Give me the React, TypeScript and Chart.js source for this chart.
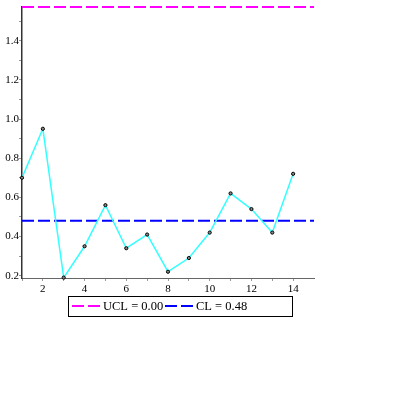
import React, { useEffect, useRef } from "react";
import { Chart, registerables } from "chart.js";

Chart.register(...registerables);

const samples: number[] = [1, 2, 3, 4, 5, 6, 7, 8, 9, 10, 11, 12, 13, 14];
const values: number[] = [0.70, 0.95, 0.19, 0.35, 0.56, 0.34, 0.41, 0.22, 0.29, 0.42, 0.62, 0.54, 0.42, 0.72];
const uclValue = 1.572;
const clValue = 0.48;
const legendLabels: string[] = ["UCL = 0.00", "CL = 0.48"];
const yTicks: number[] = [0.2, 0.3, 0.4, 0.5, 0.6, 0.7, 0.8, 0.9, 1.0, 1.1, 1.2, 1.3, 1.4, 1.5];
const xTicks: number[] = [1, 2, 3, 4, 5, 6, 7, 8, 9, 10, 11, 12, 13, 14];

const SERIF = "'Liberation Serif', 'Times New Roman', serif";

const legendPlugin = {
  id: "boxLegend",
  afterDraw(chart: any) {
    const ctx = chart.ctx;
    ctx.save();
    ctx.setLineDash([]);
    ctx.strokeStyle = "#000";
    ctx.lineWidth = 1;
    ctx.strokeRect(68.5, 296.5, 224, 20);
    const items = [
      { color: "#ff00ff", label: legendLabels[0], x: 72 },
      { color: "#0000ff", label: legendLabels[1], x: 165 },
    ];
    ctx.font = `12.5px ${SERIF}`;
    ctx.textBaseline = "alphabetic";
    ctx.textAlign = "left";
    for (const it of items) {
      ctx.strokeStyle = it.color;
      ctx.lineWidth = 2;
      ctx.setLineDash([12, 4]);
      ctx.beginPath();
      ctx.moveTo(it.x, 306);
      ctx.lineTo(it.x + 28, 306);
      ctx.stroke();
      ctx.setLineDash([]);
      ctx.fillStyle = "#000";
      ctx.fillText(it.label, it.x + 31, 310);
    }
    ctx.restore();
  },
};

export default function App() {
  const ref = useRef<HTMLCanvasElement | null>(null);
  useEffect(() => {
    if (!ref.current) return;
    const chart = new Chart(ref.current, {
      type: "line",
      data: {
        datasets: [
          {
            label: "data",
            data: samples.map((s, i) => ({ x: s, y: values[i] })),
            borderColor: "#33ffff",
            borderWidth: 1.5,
            pointRadius: 1.6,
            pointBorderColor: "#000",
            pointBackgroundColor: "#888",
            pointBorderWidth: 1,
            tension: 0,
            order: 0,
            clip: false,
          },
          {
            label: legendLabels[0],
            data: [
              { x: 1, y: uclValue },
              { x: 15, y: uclValue },
            ],
            borderColor: "#ff00ff",
            borderWidth: 2,
            borderDash: [12, 4],
            pointRadius: 0,
            order: 1,
            clip: false,
          },
          {
            label: legendLabels[1],
            data: [
              { x: 1, y: clValue },
              { x: 15, y: clValue },
            ],
            borderColor: "#0000ff",
            borderWidth: 2,
            borderDash: [12, 4],
            pointRadius: 0,
            order: 1,
            clip: false,
          },
        ],
      },
      options: {
        responsive: false,
        animation: false,
        layout: { padding: { left: 0, top: 7, right: 81, bottom: 0 } },
        plugins: { legend: { display: false }, tooltip: { enabled: false } },
        scales: {
          x: {
            type: "linear",
            min: 1,
            max: 15,
            afterBuildTicks: (scale: any) => {
              scale.ticks = xTicks.map((v) => ({ value: v }));
            },
            afterFit: (scale: any) => {
              scale.height = 117;
            },
            border: { color: "#666", width: 1 },
            grid: { drawOnChartArea: false, drawTicks: true, tickLength: 3, color: "#999" },
            ticks: {
              autoSkip: false,
              maxRotation: 0,
              padding: 2,
              color: "#000",
              font: { family: SERIF, size: 11 },
              callback: (v: any) => (Number(v) % 2 === 0 ? String(v) : ""),
            },
          },
          y: {
            type: "linear",
            min: 0.188,
            max: uclValue,
            afterBuildTicks: (scale: any) => {
              scale.ticks = yTicks.map((v) => ({ value: v }));
            },
            afterFit: (scale: any) => {
              scale.width = 22;
            },
            border: { color: "#333", width: 1.5 },
            grid: { drawOnChartArea: false, drawTicks: true, tickLength: 3, color: "#999" },
            ticks: {
              autoSkip: false,
              padding: 0,
              color: "#000",
              font: { family: SERIF, size: 11 },
              callback: (v: any) => {
                const n = Math.round(Number(v) * 10);
                return n % 2 === 0 ? (n / 10).toFixed(1) : "";
              },
            },
          },
        },
      },
      plugins: [legendPlugin],
    });
    return () => chart.destroy();
  }, []);
  return (
    <div style={{ position: "absolute", left: 0, top: 0, width: 395, height: 395, background: "#fff" }}>
      <canvas ref={ref} width={395} height={395} style={{ width: 395, height: 395 }} />
    </div>
  );
}
